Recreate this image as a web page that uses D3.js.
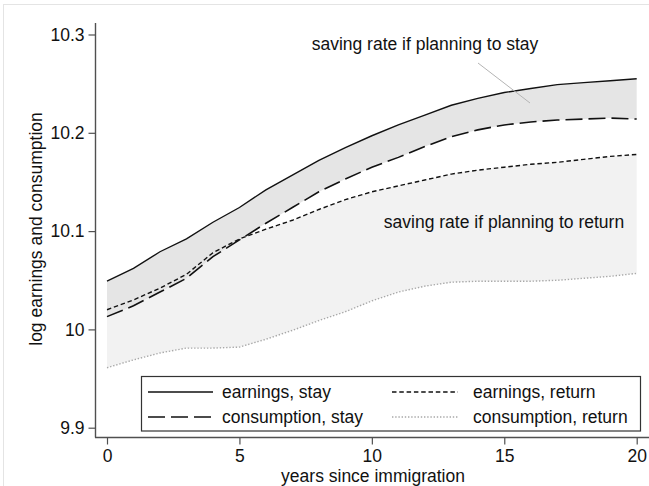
<!DOCTYPE html>
<html><head><meta charset="utf-8">
<script src="https://cdn.jsdelivr.net/npm/d3@7"></script>
<style>
html,body{margin:0;padding:0;background:#fff;}
svg{display:block;font-family:"Liberation Sans",Arial,sans-serif;}
</style></head>
<body>
<svg id="chart" width="649" height="486"></svg>
<script>
// ---- data ----
const years = [0,1,2,3,4,5,6,7,8,9,10,11,12,13,14,15,16,17,18,19,20];
const earningsStay   = [10.049,10.062,10.079,10.092,10.109,10.124,10.142,10.157,10.172,10.185,10.197,10.208,10.218,10.228,10.235,10.241,10.245,10.249,10.251,10.253,10.255];
const consumptionStay= [10.013,10.024,10.038,10.052,10.074,10.091,10.108,10.124,10.140,10.153,10.165,10.175,10.186,10.196,10.203,10.208,10.211,10.213,10.214,10.215,10.214];
const earningsReturn = [10.020,10.030,10.042,10.056,10.078,10.092,10.102,10.111,10.122,10.132,10.140,10.146,10.152,10.158,10.162,10.165,10.168,10.170,10.173,10.176,10.178];
const consumptionReturn = [9.961,9.969,9.976,9.981,9.981,9.982,9.990,9.999,10.009,10.018,10.029,10.038,10.044,10.048,10.049,10.049,10.049,10.050,10.052,10.054,10.057];
const xTicks = [0,5,10,15,20];
const yTicks = [9.9,10,10.1,10.2,10.3];
const yTickLabels = ["9.9","10","10.1","10.2","10.3"];
const legendLabels = ["earnings, stay","consumption, stay","earnings, return","consumption, return"];
const annotations = ["saving rate if planning to stay","saving rate if planning to return"];
const axisTitles = {x:"years since immigration", y:"log earnings and consumption"};

const svg = d3.select("#chart");
const FS = 17.5;

// faint outer graph-region border
svg.append("rect").attr("x",3.5).attr("y",4.5).attr("width",700).attr("height",600)
  .attr("fill","none").attr("stroke","#e4e4e4").attr("stroke-width",1);

const x = d3.scaleLinear().domain([0,20]).range([107,636.7]);
const y = d3.scaleLinear().domain([9.9,10.3]).range([427.7,34.5]);

const rows = years.map((t,i)=>({t, es:earningsStay[i], cs:consumptionStay[i], er:earningsReturn[i], cr:consumptionReturn[i]}));

// return band
svg.append("path").datum(rows)
  .attr("d", d3.area().x(d=>x(d.t)).y0(d=>y(d.cr)).y1(d=>y(d.er)))
  .attr("fill","#f2f2f2");
// stay band
svg.append("path").datum(rows)
  .attr("d", d3.area().x(d=>x(d.t)).y0(d=>y(d.cs)).y1(d=>y(d.es)))
  .attr("fill","#e5e5e5");

const styles = [
  {key:"es", stroke:"#111", dash:null, w:1.4},
  {key:"cs", stroke:"#111", dash:"17,6", w:1.6},
  {key:"er", stroke:"#111", dash:"4.5,2.8", w:1.4},
  {key:"cr", stroke:"#a8a8a8", dash:"1.4,1.8", w:1.4}
];
styles.forEach(s=>{
  svg.append("path").datum(rows)
    .attr("d", d3.line().x(d=>x(d.t)).y(d=>y(d[s.key])))
    .attr("fill","none").attr("stroke",s.stroke).attr("stroke-width",s.w)
    .attr("stroke-dasharray",s.dash);
});

// axes
const axisColor = "#505050";
svg.append("line").attr("x1",95.5).attr("x2",95.5).attr("y1",23).attr("y2",437.5)
  .attr("stroke",axisColor).attr("stroke-width",1.4);
svg.append("line").attr("x1",95).attr("x2",649).attr("y1",437.5).attr("y2",437.5)
  .attr("stroke",axisColor).attr("stroke-width",1.4);

const yAxis = d3.axisLeft(y).tickValues(yTicks).tickSize(7).tickPadding(4)
  .tickFormat((d,i)=>yTickLabels[i]);
const gy = svg.append("g").attr("transform","translate(95.5,0)").call(yAxis);
gy.select(".domain").remove();
gy.selectAll(".tick line").attr("stroke",axisColor).attr("stroke-width",1.2);
gy.selectAll(".tick text").attr("font-size",FS).attr("fill","#111")
  .attr("font-family","Liberation Sans, Arial, sans-serif");

const xAxis = d3.axisBottom(x).tickValues(xTicks).tickSize(7).tickPadding(5.5)
  .tickFormat(d3.format("d"));
const gx = svg.append("g").attr("transform","translate(0,437.5)").call(xAxis);
gx.select(".domain").remove();
gx.selectAll(".tick line").attr("stroke",axisColor).attr("stroke-width",1.2);
gx.selectAll(".tick text").attr("font-size",FS).attr("fill","#111")
  .attr("font-family","Liberation Sans, Arial, sans-serif");

// axis titles
svg.append("text").attr("x",373).attr("y",482.3).attr("text-anchor","middle")
  .attr("font-size",FS).attr("fill","#111").text(axisTitles.x);
svg.append("text").attr("transform","translate(42,229) rotate(-90)").attr("text-anchor","middle")
  .attr("font-size",FS).attr("fill","#111").text(axisTitles.y);

// annotations
svg.append("line").attr("x1",478).attr("y1",63).attr("x2",530).attr("y2",103)
  .attr("stroke","#b4b4b4").attr("stroke-width",1);
svg.append("text").attr("x",425).attr("y",50).attr("text-anchor","middle")
  .attr("font-size",FS).attr("fill","#111").text(annotations[0]);
svg.append("text").attr("x",504).attr("y",228).attr("text-anchor","middle")
  .attr("font-size",FS).attr("fill","#111").text(annotations[1]);

// legend
svg.append("rect").attr("x",141.5).attr("y",376.5).attr("width",499).attr("height",54.5)
  .attr("fill","#fff").attr("stroke","#333").attr("stroke-width",1.2);
const legPos = [
  {sx:148, ex:213, tx:222, y:392},
  {sx:148, ex:213, tx:222, y:417},
  {sx:392, ex:458, tx:473, y:392},
  {sx:392, ex:458, tx:473, y:417}
];
styles.forEach((s,i)=>{
  const p = legPos[i];
  svg.append("line").attr("x1",p.sx).attr("x2",p.ex).attr("y1",p.y).attr("y2",p.y)
    .attr("stroke",s.stroke).attr("stroke-width",s.w).attr("stroke-dasharray",s.dash);
  svg.append("text").attr("x",p.tx).attr("y",p.y+6.3).attr("font-size",FS)
    .attr("fill","#111").text(legendLabels[i]);
});
</script>
</body></html>
